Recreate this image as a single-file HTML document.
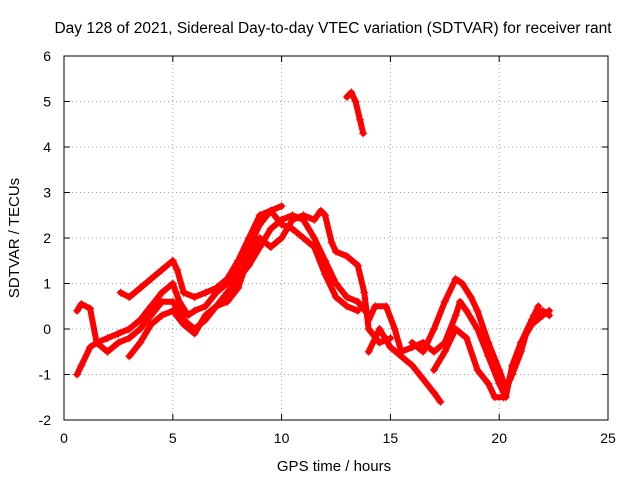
<!DOCTYPE html>
<html><head><meta charset="utf-8"><style>
body{margin:0;background:#fff;}
svg text{font-family:"Liberation Sans",sans-serif;font-size:14px;fill:#000;}
</style></head><body>
<svg id="chart" width="640" height="480" xmlns="http://www.w3.org/2000/svg">
<text x="333" y="33" text-anchor="middle" style="font-size:15.5px">Day 128 of 2021, Sidereal Day-to-day VTEC variation (SDTVAR) for receiver rant</text>
<text x="334" y="471" text-anchor="middle" style="font-size:15px">GPS time / hours</text>
<text transform="translate(19,238) rotate(-90)" text-anchor="middle" style="font-size:15px">SDTVAR / TECUs</text>
<g id="grid"></g>
<g id="ticks"></g>
<g id="series"></g>
<rect x="64" y="56" width="544" height="364" fill="none" stroke="#000" stroke-width="1"/>
</svg>
<script>
const xTicks=[0,5,10,15,20,25];
const yTicks=[-2,-1,0,1,2,3,4,5,6];
const seriesA=[[0.6,-1.0],[0.8,-0.8],[1.2,-0.4],[1.5,-0.3],[2,-0.2],[2.5,-0.1],[3,0],[3.5,0.2],[4,0.5],[4.5,0.8],[5,1.0],[5.3,0.6],[5.7,0.3],[6,0.4],[6.5,0.5],[7,0.8],[7.5,1.0],[8,1.3],[8.5,1.8],[9,2.3],[9.5,2.6],[10,2.7]];
const seriesB=[[0.6,0.4],[0.8,0.55],[1.2,0.45],[1.5,-0.3],[2,-0.5],[2.5,-0.3],[3,-0.2],[3.5,0],[4,0.3],[4.5,0.6],[5,0.6],[5.5,0.2],[6,0.0],[6.5,0.2],[7,0.5],[7.5,0.8],[8,1.1],[8.5,1.4],[9,1.8],[9.5,2.2],[10,2.4],[10.5,2.5],[11,2.4],[11.5,2.0],[12,1.5],[12.5,1.0],[13,0.7],[13.5,0.6],[14,0.3]];
const seriesC=[[2.6,0.8],[3,0.7],[3.5,0.9],[4,1.1],[4.5,1.3],[5,1.5],[5.2,1.3],[5.5,0.8],[6,0.7],[6.5,0.8],[7,0.9],[7.5,1.1],[8,1.5],[8.5,2.0],[9,2.5],[9.5,2.6],[10,2.3],[10.5,2.2],[11,2.0],[11.5,1.8],[12,1.2],[12.5,0.7],[13,0.5],[13.5,0.4]];
const seriesD=[[3,-0.6],[3.5,-0.3],[4,0.1],[4.5,0.3],[5,0.4],[5.5,0.1],[6,-0.1],[6.5,0.3],[7,0.5],[7.5,0.6],[8,0.9],[8.5,1.6],[9,2.0],[9.5,1.8],[10,2.0],[10.5,2.4],[11,2.5],[11.5,2.4],[11.8,2.6],[12,2.5],[12.3,1.9],[12.5,1.7],[13,1.6],[13.5,1.4],[13.8,0.8],[14,0.0],[14.5,-0.3],[15,-0.2]];
const seriesE=[[13,5.1],[13.2,5.2],[13.4,5.0],[13.6,4.6],[13.75,4.3]];
const seriesF=[[14,0.2],[14.3,0.5],[14.8,0.5],[15.2,0.0],[15.5,-0.5],[16,-0.4],[16.5,-0.3],[17,-0.5],[17.5,-0.3],[18,0.3],[18.2,0.6],[18.5,0.4],[19,0.0],[19.5,-0.6],[20,-1.2],[20.3,-1.5],[20.6,-0.8],[21,-0.3],[21.5,0.1],[22,0.3],[22.3,0.4]];
const seriesG=[[14,-0.5],[14.5,0.0],[15,-0.4],[15.5,-0.6],[16,-0.8],[16.5,-1.1],[17,-1.4],[17.3,-1.6]];
const seriesH=[[16,-0.3],[16.5,-0.5],[17,0.0],[17.5,0.6],[18,1.1],[18.3,1.0],[18.7,0.7],[19,0.4],[19.5,-0.3],[20,-0.9],[20.3,-1.3],[20.6,-1.0],[21,-0.5],[21.3,0.0],[21.6,0.3],[22,0.4],[22.3,0.3]];
const seriesI=[[17,-0.9],[17.5,-0.5],[18,0.0],[18.5,-0.2],[19,-0.9],[19.5,-1.2],[19.8,-1.5],[20.2,-1.5],[20.5,-1.1],[21,-0.3],[21.5,0.2],[21.8,0.5]];
const allSeries=[seriesA,seriesB,seriesC,seriesD,seriesE,seriesF,seriesG,seriesH,seriesI];

const L=64,R=608,T=56,B=420;
const xs=v=>L+(v-0)/25*(R-L);
const ys=v=>B-(v+2)/8*(B-T);
const NS="http://www.w3.org/2000/svg";
function mk(tag,attrs,parent){const e=document.createElementNS(NS,tag);for(const k in attrs)e.setAttribute(k,attrs[k]);parent.appendChild(e);return e;}
const grid=document.getElementById('grid'),ticks=document.getElementById('ticks'),ser=document.getElementById('series');
xTicks.forEach(t=>{
  const x=xs(t);
  if(t>0&&t<25){const g=mk('line',{x1:x,x2:x,y1:T,y2:B,stroke:'#a0a0a0','stroke-dasharray':'1,3'},grid);
  
  }
  mk('line',{x1:x,x2:x,y1:B,y2:B-6,stroke:'#000'},ticks);
  mk('line',{x1:x,x2:x,y1:T,y2:T+6,stroke:'#000'},ticks);
  const tx=mk('text',{x:x,y:B+23,'text-anchor':'middle'},ticks);tx.textContent=t;
  
  
});
yTicks.forEach(t=>{
  const y=ys(t);
  if(t>-2&&t<6){const g=mk('line',{x1:L,x2:R,y1:y,y2:y,stroke:'#a0a0a0','stroke-dasharray':'1,3'},grid);
  
  }
  mk('line',{x1:L,x2:L+6,y1:y,y2:y,stroke:'#000'},ticks);
  mk('line',{x1:R,x2:R-6,y1:y,y2:y,stroke:'#000'},ticks);
  const tx=mk('text',{x:L-13,y:y+5,'text-anchor':'end'},ticks);tx.textContent=t;
  
  
});
allSeries.forEach((s,i)=>{
  const pts=s.map(p=>xs(p[0])+','+ys(p[1])).join(' ');
  const pl=mk('polyline',{points:pts,fill:'none',stroke:'#ff0000','stroke-width':6,'stroke-linejoin':'round','stroke-linecap':'round'},ser);
  
  
  s.forEach(p=>{
    const x=xs(p[0]),y=ys(p[1]);
    const m=mk('path',{d:`M${x-4},${y}H${x+4}M${x},${y-4}V${y+4}`,stroke:'#ff0000','stroke-width':1},ser);
    
    
  });
});
</script>
</body></html>
